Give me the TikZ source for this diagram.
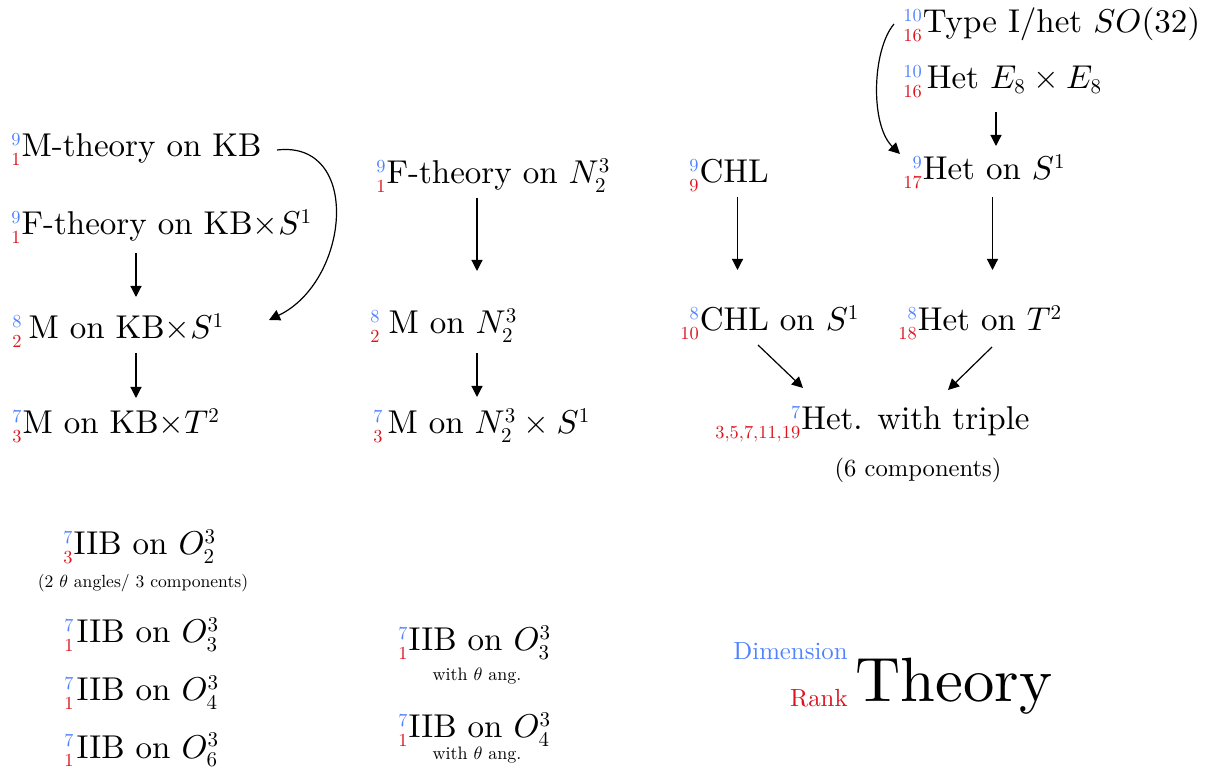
\RequirePackage{fix-cm}
\documentclass[tikz,border=0pt]{standalone}
\usepackage[no-math]{fontspec}
\setmainfont{lmroman10-regular.otf}[ItalicFont=lmroman10-italic.otf, BoldFont=lmroman10-bold.otf, BoldItalicFont=lmroman10-bolditalic.otf]
\DeclareFontShape{OT1}{cmr}{m}{n}{<-> cmr10}{}
\DeclareFontShape{OML}{cmm}{m}{it}{<-> cmmi10}{}
\DeclareFontShape{OMS}{cmsy}{m}{n}{<-> cmsy10}{}
\usetikzlibrary{arrows.meta,calc}
\definecolor{dimc}{RGB}{80,130,255}
\definecolor{rankc}{RGB}{220,20,30}
\DeclareMathSizes{16.5}{16.5}{10.5}{9.2}
\newcommand\thy[3]{$\setbox0\hbox{$\scriptscriptstyle\textcolor{dimc}{#1}$}%
  \setbox2\hbox{$\scriptscriptstyle\textcolor{rankc}{#2}$}%
  \dimen0=\ifdim\wd0>\wd2 \wd0\else\wd2\fi
  {}^{\hbox to\dimen0{\hfil\box0}}_{\hbox to\dimen0{\hfil\box2}}$#3}
\tikzset{
  lbl/.style={inner sep=0pt, anchor=base west, font=\fontsize{16.5}{19}\selectfont},
  note/.style={inner sep=0pt, anchor=base},
  arr/.style={-{Triangle[length=5.5pt,width=5.5pt]}, line width=0.6pt},
}
\begin{document}
\begin{tikzpicture}[x=0.5pt,y=-0.5pt]
\useasboundingbox (0,0) rectangle (1216,774);
% column coordinates for vertical arrows
\coordinate (c1) at (136,0);
\coordinate (c2) at (477,0);
\coordinate (c3) at (737.5,0);
\coordinate (c4) at (992.5,0);
\coordinate (c5) at (996,0);
% left column
\node[lbl] (mkb)  at (11,157) {\thy{9}{1}{M-theory on KB}};
\node[lbl] (fkbs) at (11,235) {\thy{9}{1}{F-theory on KB$\times S^1$}};
\node[lbl] (mkbs) at (12,339) {\thy{8}{2}{\hspace{3pt}M on KB$\times S^1$}};
\node[lbl] (mkbt) at (12,434) {\thy{7}{3}{M on KB$\times T^2$}};
% middle column
\node[lbl] (fn)  at (376,184) {\thy{9}{1}{F-theory on $N_2^3$}};
\node[lbl] (mn)  at (370,334) {\thy{8}{2}{\hspace{4pt}M on $N_2^3$}};
\node[lbl] (mns) at (373,434) {\thy{7}{3}{\hspace{2pt}M on $N_2^3\times S^1$}};
% right part
\node[lbl] (typeI) at (903,33) {\thy{10}{16}{Type I/het $SO(32)$}};
\node[lbl] (hete)  at (903,89) {\thy{10}{16}{\hspace{2pt}Het $E_8\times E_8$}};
\node[lbl] (chl)   at (689,183) {\thy{9}{9}{CHL}};
\node[lbl] (hets)  at (903,180) {\thy{9}{17}{Het on $S^1$}};
\node[lbl] (chls)  at (680,331) {\thy{8}{10}{CHL on $S^1$}};
\node[lbl] (hett)  at (898,331) {\thy{8}{18}{Het on $T^2$}};
\node[lbl] (trip)  at (715,430) {\thy{7}{3,5,7,11,19}{Het. with triple}};
\node[note, font=\fontsize{12.3}{14}\selectfont] (comps) at (918,477) {(6 components)};
% bottom left
\node[lbl] (o2) at (63,555) {\thy{7}{3}{IIB on $O_2^3$}};
\node[note, font=\fontsize{8.8}{10}\selectfont] (o2c) at (143,588) {(2 $\theta$ angles/ 3 components)};
\node[lbl] (o3) at (64,643) {\thy{7}{1}{\hspace{1pt}IIB on $O_3^3$}};
\node[lbl] (o4) at (64,701) {\thy{7}{1}{\hspace{1pt}IIB on $O_4^3$}};
\node[lbl] (o6) at (64,758) {\thy{7}{1}{\hspace{1pt}IIB on $O_6^3$}};
% bottom middle
\node[lbl] (o3t) at (398,651) {\thy{7}{1}{IIB on $O_3^3$}};
\node[note, font=\fontsize{9}{10}\selectfont] (o3tc) at (477,681) {with $\theta$ ang.};
\node[lbl] (o4t) at (398,738) {\thy{7}{1}{IIB on $O_4^3$}};
\node[note, font=\fontsize{9}{10}\selectfont] (o4tc) at (477,760) {with $\theta$ ang.};
% legend
\node[inner sep=0pt, anchor=base east, text=dimc, font=\fontsize{12.4}{14}\selectfont] (dim) at (848,660) {Dimension};
\node[inner sep=0pt, anchor=base east, text=rankc, font=\fontsize{12.4}{14}\selectfont] (rank) at (848,707) {Rank};
\node[inner sep=0pt, anchor=base west, font=\fontsize{31.3}{36}\selectfont] (theory) at (855,702) {Theory};
% vertical arrows
\draw[arr] ($(fkbs.base -| c1)+(0,18)$) -- ($(mkbs.base -| c1)+(0,-42)$);
\draw[arr] ($(mkbs.base -| c1)+(0,14)$) -- ($(mkbt.base -| c1)+(0,-36)$);
\draw[arr] ($(fn.base -| c2)+(0,14)$) -- ($(mn.base -| c2)+(0,-63)$);
\draw[arr] ($(mn.base -| c2)+(0,19)$) -- ($(mns.base -| c2)+(0,-37)$);
\draw[arr] ($(chl.base -| c3)+(0,14)$) -- ($(chls.base -| c3)+(0,-61)$);
\draw[arr] ($(hets.base -| c4)+(0,17)$) -- ($(hett.base -| c4)+(0,-61)$);
\draw[arr] ($(hete.base -| c5)+(0,23)$) -- ($(hets.base -| c5)+(0,-34)$);
% diagonal arrows
\draw[arr] ($(chls.base west)+(78,14)$) -- ($(trip.base west)+(88,-42)$);
\draw[arr] ($(hett.base west)+(94,16)$) -- ($(trip.base west)+(233,-40)$);
% curved arrows
\draw[arr] ($(mkb.base west)+(266,-7)$) .. controls +(85,-10) and +(81,-39) .. ($(mkbs.base west)+(257,-19)$);
\draw[arr] ($(typeI.base west)+(-9,-9)$) .. controls +(-22,26) and +(-30,-29) .. ($(hets.base west)+(-3,-26)$);
\end{tikzpicture}
\end{document}
